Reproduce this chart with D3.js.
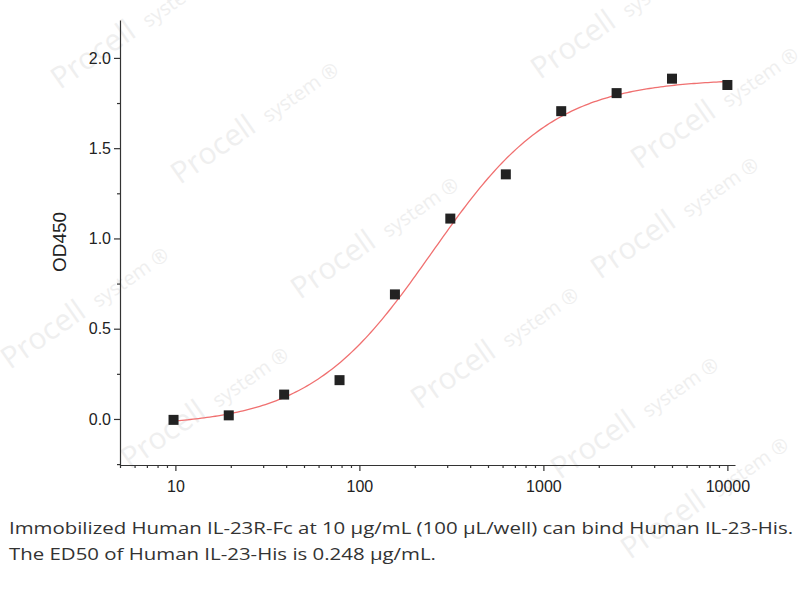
<!DOCTYPE html><html><head><meta charset="utf-8"><script src="https://cdn.jsdelivr.net/npm/d3@7"></script>
<style>body{margin:0;background:#fff}</style></head><body><svg id="c" width="804" height="600"></svg><script>
const conc=[9.77,19.5,39,78,156,312,625,1250,2500,5000,10000];
const od=[-0.005,0.02,0.135,0.215,0.69,1.11,1.355,1.705,1.805,1.885,1.85];
const fit={bottom:-0.04,top:1.885,ec50:248,hill:1.3};
const xTicks=[10,100,1000,10000];
const yTicks=[0,0.5,1,1.5,2];
const svg=d3.select("#c");
const x=d3.scaleLog().domain([5,11000]).range([120,735]);
const y=d3.scaleLinear().domain([-0.255,2.21]).range([465,20]);
// watermarks
const wm=[[60,90],[540,80],[180,185],[640,170],[300,300],[10,370],[420,410],[600,280],[130,470],[560,480],[630,560]];
wm.forEach(([a,b])=>{const g=svg.append("g").attr("transform",`translate(${a},${b}) rotate(-35)`).attr("fill","#efefef");
g.append("text").attr("font-family","Open Sans").attr("font-size",30).text("Procell");
g.append("text").attr("x",108).attr("font-family","Open Sans").attr("font-size",20).text("system ®");});
const f="Arial, Liberation Sans, sans-serif";
const xa=svg.append("g").attr("transform","translate(0,465)").call(d3.axisBottom(x).tickValues(xTicks).tickFormat(d3.format("d")).tickSize(6).tickSizeOuter(0));
const minors=[];for(let e=0;e<5;e++)for(let k=2;k<10;k++){const v=k*10**e;if(v>=5&&v<=11000)minors.push(v);}
svg.append("g").attr("transform","translate(0,465)").call(d3.axisBottom(x).tickValues(minors).tickFormat("").tickSize(3).tickSizeOuter(0)).select(".domain").remove();
const ya=svg.append("g").attr("transform","translate(120,0)").call(d3.axisLeft(y).tickValues(yTicks).tickFormat(d3.format(".1f")).tickSize(6).tickSizeOuter(0));
svg.append("g").attr("transform","translate(120,0)").call(d3.axisLeft(y).tickValues(d3.range(-0.25,2.2,0.25).filter(v=>Math.abs(v*2-Math.round(v*2))>0.1)).tickFormat("").tickSize(3).tickSizeOuter(0)).select(".domain").remove();
svg.selectAll(".tick text").attr("font-family",f).attr("font-size",16).attr("fill","#222");
xa.selectAll(".tick text").attr("dy","1.1em");
svg.selectAll(".domain,.tick line").attr("stroke","#333").attr("stroke-width",1.2);
svg.append("text").attr("transform","translate(66,242) rotate(-90)").attr("text-anchor","middle").attr("font-family",f).attr("font-size",19).attr("fill","#222").text("OD450");
const cx=d3.range(0,200).map(i=>10**(Math.log10(9.77)+i/199*(4-Math.log10(9.77))));
const model=c=>fit.bottom+(fit.top-fit.bottom)/(1+Math.pow(fit.ec50/c,fit.hill));
svg.append("path").attr("d",d3.line().x(d=>x(d)).y(d=>y(model(d)))(cx)).attr("fill","none").attr("stroke","#f07070").attr("stroke-width",1.3);
svg.selectAll("rect.p").data(conc).join("rect").attr("x",d=>x(d)-5).attr("y",(d,i)=>y(od[i])-5).attr("width",10).attr("height",10).attr("fill","#222");
const cap=svg.append("g").attr("font-family","Open Sans").attr("font-size",17).attr("fill","#333");
cap.append("text").attr("x",9).attr("y",534).attr("textLength",784).attr("lengthAdjust","spacingAndGlyphs").text("Immobilized Human IL-23R-Fc at 10 μg/mL (100 μL/well) can bind Human IL-23-His.");
cap.append("text").attr("x",9).attr("y",560).attr("textLength",427).attr("lengthAdjust","spacingAndGlyphs").text("The ED50 of Human IL-23-His is 0.248 μg/mL.");
</script></body></html>
